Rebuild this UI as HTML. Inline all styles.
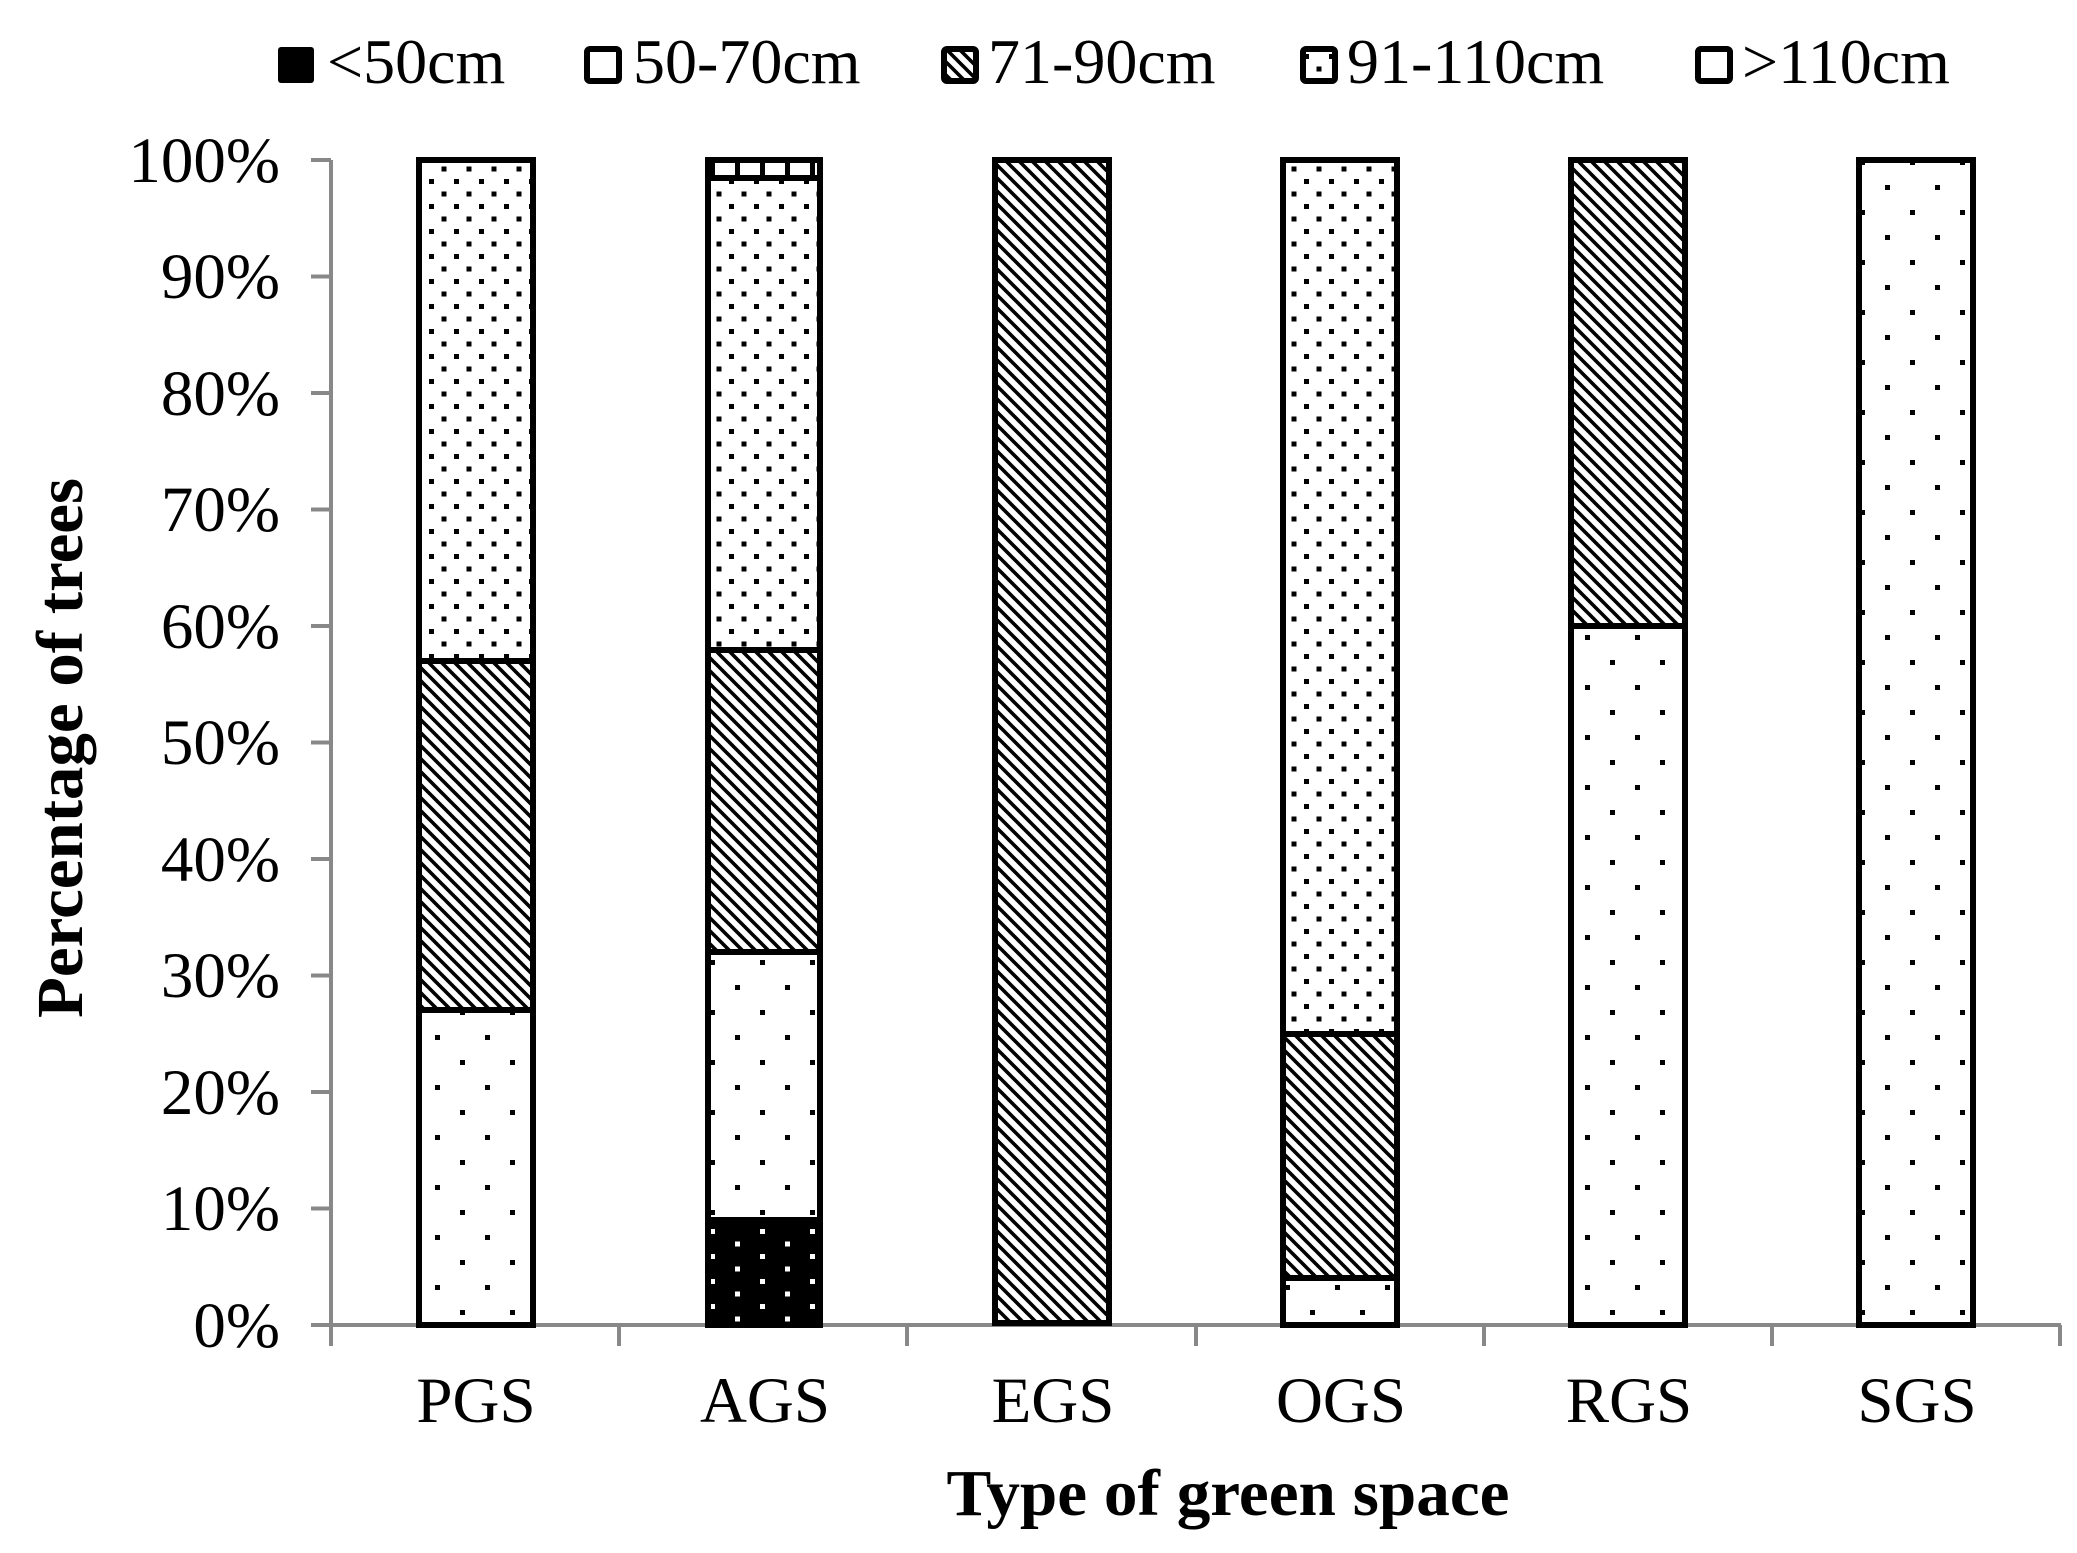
<!DOCTYPE html>
<html><head><meta charset="utf-8"><style>
html,body{margin:0;padding:0;background:#fff;}
svg{display:block;}
text{font-family:"Liberation Serif",serif;fill:#000;}
</style></head><body>
<svg width="2077" height="1553" viewBox="0 0 2077 1553" xmlns="http://www.w3.org/2000/svg">
<defs>
<pattern id="sp" width="50" height="50" patternUnits="userSpaceOnUse" x="0" y="0">
<rect width="50" height="50" fill="#fff"/>
<rect x="10" y="10" width="5" height="5" fill="#000"/>
<rect x="35" y="35" width="5" height="5" fill="#000"/>
</pattern>
<pattern id="dn" width="25" height="25" patternUnits="userSpaceOnUse">
<rect width="25" height="25" fill="#fff"/>
<rect x="4" y="4" width="5" height="5" fill="#000"/>
<rect x="16.5" y="16.5" width="5" height="5" fill="#000"/>
</pattern>
<pattern id="bk" width="50" height="25" patternUnits="userSpaceOnUse">
<rect width="50" height="25" fill="#000"/>
<rect x="10" y="4" width="5" height="5" fill="#fff"/>
<rect x="35" y="16.5" width="5" height="5" fill="#fff"/>
</pattern>
<pattern id="ht" width="13" height="13" patternUnits="userSpaceOnUse">
<rect width="13" height="13" fill="#fff"/>
<path d="M-3,-3 L16,16 M-3,10 L3,16 M10,-3 L16,3" stroke="#000" stroke-width="3.6"/>
</pattern>
<pattern id="vb" width="25" height="20" patternUnits="userSpaceOnUse">
<rect width="25" height="20" fill="#fff"/>
<rect x="10" y="0" width="5" height="20" fill="#000"/>
</pattern>
</defs>

<!-- legend -->
<g font-size="64">
<rect x="278" y="47" width="36" height="36" fill="#000" rx="3"/>
<text x="327" y="83">&lt;50cm</text>
<rect x="587" y="49" width="32" height="32" fill="#fff" stroke="#000" stroke-width="6" rx="3"/>
<text x="633" y="83">50-70cm</text>
<rect x="944" y="49" width="32" height="32" fill="url(#ht)" stroke="#000" stroke-width="6" rx="3"/>
<text x="988" y="83">71-90cm</text>
<rect x="1303" y="49" width="32" height="32" fill="url(#dn)" stroke="#000" stroke-width="6" rx="3"/>
<text x="1347" y="83">91-110cm</text>
<rect x="1698" y="49" width="32" height="32" fill="#fff" stroke="#000" stroke-width="6" rx="3"/>
<text x="1742" y="83">&gt;110cm</text>
</g>

<!-- y axis -->
<g stroke="#888" stroke-width="4" fill="none">
<line x1="331" y1="160" x2="331" y2="1325"/>
<line x1="311" y1="160" x2="331" y2="160"/>
<line x1="311" y1="276.5" x2="331" y2="276.5"/>
<line x1="311" y1="393" x2="331" y2="393"/>
<line x1="311" y1="509.5" x2="331" y2="509.5"/>
<line x1="311" y1="626" x2="331" y2="626"/>
<line x1="311" y1="742.5" x2="331" y2="742.5"/>
<line x1="311" y1="859" x2="331" y2="859"/>
<line x1="311" y1="975.5" x2="331" y2="975.5"/>
<line x1="311" y1="1092" x2="331" y2="1092"/>
<line x1="311" y1="1208.5" x2="331" y2="1208.5"/>
<line x1="311" y1="1325" x2="2061" y2="1325"/>
<line x1="331" y1="1325" x2="331" y2="1346"/>
<line x1="619" y1="1325" x2="619" y2="1346"/>
<line x1="907" y1="1325" x2="907" y2="1346"/>
<line x1="1196" y1="1325" x2="1196" y2="1346"/>
<line x1="1484" y1="1325" x2="1484" y2="1346"/>
<line x1="1772" y1="1325" x2="1772" y2="1346"/>
<line x1="2060" y1="1325" x2="2060" y2="1346"/>
</g>
<g font-size="65" text-anchor="end">
<text x="280" y="182">100%</text>
<text x="280" y="298">90%</text>
<text x="280" y="415">80%</text>
<text x="280" y="531">70%</text>
<text x="280" y="648">60%</text>
<text x="280" y="764">50%</text>
<text x="280" y="881">40%</text>
<text x="280" y="997">30%</text>
<text x="280" y="1114">20%</text>
<text x="280" y="1230">10%</text>
<text x="280" y="1347">0%</text>
</g>

<!-- bars -->
<g stroke="#000" stroke-width="6">
<rect x="419" y="1010" width="114" height="315" fill="url(#sp)"/>
<rect x="419" y="661" width="114" height="349" fill="url(#ht)"/>
<rect x="419" y="160" width="114" height="501" fill="url(#dn)"/>

<rect x="708" y="1220" width="112" height="105" fill="url(#bk)"/>
<rect x="708" y="952" width="112" height="268" fill="url(#sp)"/>
<rect x="708" y="650" width="112" height="302" fill="url(#ht)"/>
<rect x="708" y="178" width="112" height="472" fill="url(#dn)"/>
<rect x="708" y="160" width="112" height="18" fill="url(#vb)"/>

<rect x="995" y="160" width="114" height="1163" fill="url(#ht)"/>

<rect x="1283" y="1278" width="114" height="47" fill="url(#sp)"/>
<rect x="1283" y="1034" width="114" height="244" fill="url(#ht)"/>
<rect x="1283" y="160" width="114" height="874" fill="url(#dn)"/>

<rect x="1571" y="626" width="114" height="699" fill="url(#sp)"/>
<rect x="1571" y="160" width="114" height="466" fill="url(#ht)"/>

<rect x="1859" y="160" width="114" height="1165" fill="url(#sp)"/>
</g>

<!-- category labels -->
<g font-size="65" text-anchor="middle">
<text x="476" y="1422">PGS</text>
<text x="765" y="1422">AGS</text>
<text x="1053" y="1422">EGS</text>
<text x="1341" y="1422">OGS</text>
<text x="1629" y="1422">RGS</text>
<text x="1917" y="1422">SGS</text>
</g>
<text x="1228" y="1515" font-size="66" font-weight="bold" text-anchor="middle" textLength="563" lengthAdjust="spacingAndGlyphs">Type of green space</text>
<text transform="translate(82,748) rotate(-90)" font-size="66" font-weight="bold" text-anchor="middle" textLength="540" lengthAdjust="spacingAndGlyphs">Percentage of trees</text>
</svg>
</body></html>
